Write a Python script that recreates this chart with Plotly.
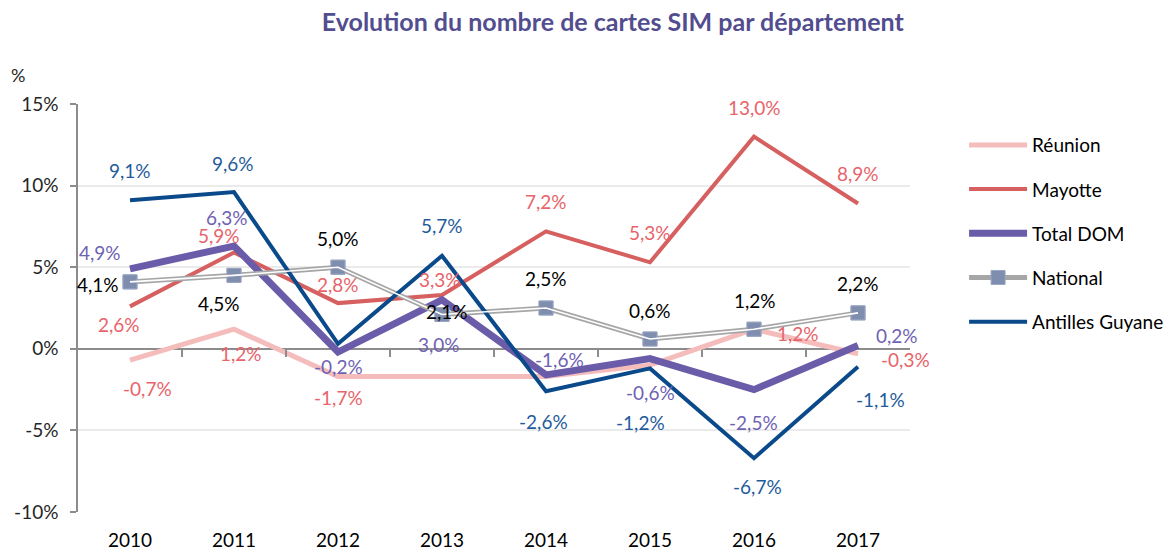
import plotly.graph_objects as go

years = [2010, 2011, 2012, 2013, 2014, 2015, 2016, 2017]
reunion = [-0.7, 1.2, -1.7, -1.7, -1.7, -1.0, 1.2, -0.3]
mayotte = [2.6, 5.9, 2.8, 3.3, 7.2, 5.3, 13.0, 8.9]
total_dom = [4.9, 6.3, -0.2, 3.0, -1.6, -0.6, -2.5, 0.2]
national = [4.1, 4.5, 5.0, 2.1, 2.5, 0.6, 1.2, 2.2]
antilles = [9.1, 9.6, 0.3, 5.7, -2.6, -1.2, -6.7, -1.1]

# which data labels are shown in the original
reunion_shown = [True, True, True, False, False, False, True, True]
antilles_shown = [True, True, False, True, True, True, True, True]

y_tickvals = [-10, -5, 0, 5, 10, 15]
y_ticktext = ["-10%", "-5%", "0%", "5%", "10%", "15%"]
x_ticktext = [str(y) for y in years]

FONT = "Lato"
C_REU = "#F5BCBC"
C_MAY = "#D65F5F"
C_MAY_T = "#E8636A"
C_DOM = "#6A5CA8"
C_DOM_T = "#6E62B2"
C_NAT_L = "#A6A6A6"
C_NAT_M = "#7F8DAF"
C_ANT = "#0B4A8A"
C_ANT_T = "#1F5C9B"

# label offsets (xshift, yshift in px; positive yshift = up)
off_reu = [(17, -28), (7, -24), (0, -21), None, None, None, (44, -4), (47, -6)]
off_may = [(-11, -18), (-15, 17), (0, 19), (-2, 15), (0, 30), (0, 30), (0, 29), (0, 30)]
off_dom = [(-30, 16), (-7, 28), (0, -14), (-3, -45), (13, 15), (0, -34), (-1, -33), (39, 10)]
off_nat = [(-32, -3), (-15, -28), (0, 29), (5, 3), (0, 30), (0, 29), (1, 29), (0, 29)]
off_ant = [(0, 30), (-1, 29), None, (0, 30), (-3, -30), (-10, -54), (3, -28), (22, -33)]


def fmt(v):
    return f"{v:.1f}%".replace(".", ",")


fig = go.Figure()
fig.add_trace(go.Scatter(x=years, y=reunion, name="Réunion", mode="lines",
                         line=dict(color=C_REU, width=5), legendgroup="a", hoverinfo="skip"))
fig.add_trace(go.Scatter(x=years, y=mayotte, name="Mayotte", mode="lines",
                         line=dict(color=C_MAY, width=4), legendgroup="b", hoverinfo="skip"))
fig.add_trace(go.Scatter(x=years, y=total_dom, name="Total DOM", mode="lines",
                         line=dict(color=C_DOM, width=7), legendgroup="c", hoverinfo="skip"))
fig.add_trace(go.Scatter(x=years, y=national, name="National", mode="lines+markers",
                         line=dict(color=C_NAT_L, width=5),
                         marker=dict(symbol="square", size=14, color=C_NAT_M,
                                     line=dict(color="#9AA6C2", width=1)),
                         legendgroup="d", hoverinfo="skip"))
fig.add_trace(go.Scatter(x=years, y=national, mode="lines", showlegend=False,
                         line=dict(color="white", width=1.6), legendgroup="d",
                         xaxis="x2", hoverinfo="skip"))
fig.add_trace(go.Scatter(x=years, y=national, mode="markers", showlegend=False,
                         marker=dict(symbol="square", size=14, color=C_NAT_M,
                                     line=dict(color="#9AA6C2", width=1)),
                         legendgroup="d", hoverinfo="skip"))
fig.add_trace(go.Scatter(x=years, y=antilles, name="Antilles Guyane", mode="lines",
                         line=dict(color=C_ANT, width=4), legendgroup="e", hoverinfo="skip"))

annotations = []


def add_labels(vals, offs, color, shown=None):
    for i, (x, v) in enumerate(zip(years, vals)):
        if shown is not None and not shown[i]:
            continue
        o = offs[i]
        if o is None:
            continue
        annotations.append(dict(x=x, y=v, xref="x", yref="y", text=fmt(v), showarrow=False,
                                xshift=o[0], yshift=o[1],
                                font=dict(family=FONT, size=19, color=color)))


add_labels(reunion, off_reu, C_MAY_T, reunion_shown)
add_labels(mayotte, off_may, C_MAY_T)
add_labels(total_dom, off_dom, C_DOM_T)
add_labels(national, off_nat, "#000000")
add_labels(antilles, off_ant, C_ANT_T, antilles_shown)

annotations.append(dict(xref="paper", yref="paper", x=-60 / 832, y=1 + 29 / 408,
                        text="%", showarrow=False,
                        font=dict(family=FONT, size=18, color="#262626"),
                        xanchor="center", yanchor="middle"))

fig.update_layout(
    width=1174, height=550,
    margin=dict(l=78, r=264, t=104, b=38, autoexpand=False),
    paper_bgcolor="white", plot_bgcolor="white",
    font=dict(family=FONT, size=19, color="#262626"),
    title=dict(text="<b>Evolution du nombre de cartes SIM par département</b>",
               x=0.522, xref="container", xanchor="center",
               y=1 - 22 / 550, yref="container", yanchor="middle",
               font=dict(family=FONT, size=25, color="#524D8F")),
    xaxis=dict(range=[2009.5, 2017.5], tickvals=years, ticktext=x_ticktext,
               showgrid=False, showline=False, ticks="", zeroline=False, automargin=False,
               ticklabelstandoff=15, tickfont=dict(size=19, color="#000000")),
    xaxis2=dict(overlaying="x", matches="x", anchor="free", position=0.4, automargin=False,
                tickvals=[y + 0.5 for y in years[:-1]], ticks="outside", ticklen=7,
                tickwidth=1.5, tickcolor="#8C8C8C", showticklabels=False,
                showline=False, showgrid=False, zeroline=False),
    yaxis=dict(range=[-10, 15], tickvals=y_tickvals, ticktext=y_ticktext, automargin=False,
               showgrid=True, gridcolor="#EBEBEB", gridwidth=1.5,
               zeroline=True, zerolinecolor="#8C8C8C", zerolinewidth=2,
               showline=True, linecolor="#8C8C8C", linewidth=1.5,
               ticks="outside", ticklen=6, tickcolor="#8C8C8C", tickwidth=1.5,
               ticklabelstandoff=8,
               tickfont=dict(size=19, color="#262626")),
    legend=dict(x=1.065, xanchor="left", y=0.946, yanchor="top",
                traceorder="grouped", tracegroupgap=16.5, itemwidth=58,
                font=dict(family=FONT, size=19, color="#000000"),
                bgcolor="rgba(0,0,0,0)"),
    annotations=annotations,
)

fig.write_html(
    "out.html",
    config={"displayModeBar": False},
    post_script="document.body.style.margin='0';document.body.style.padding='0';"
                "document.documentElement.style.overflow='hidden';",
)
